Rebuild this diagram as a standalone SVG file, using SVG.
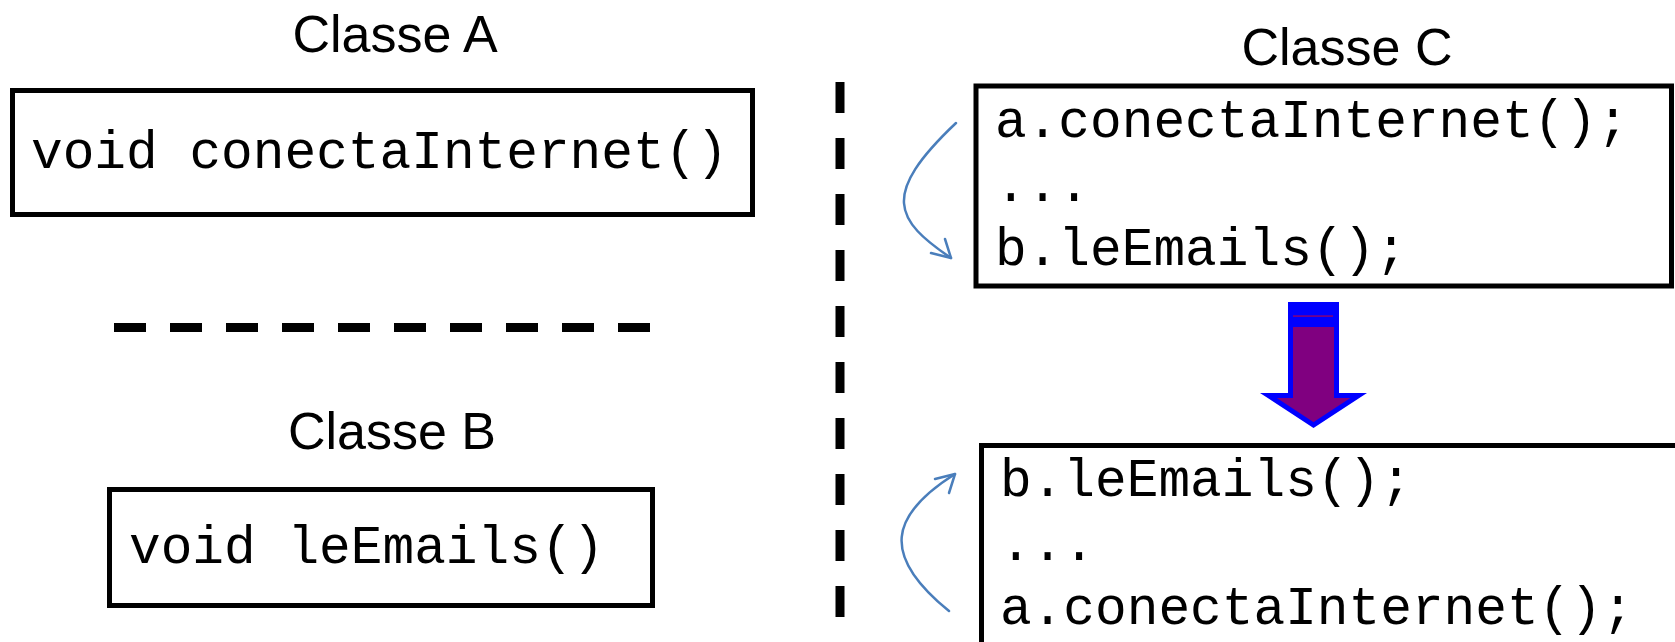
<svg xmlns="http://www.w3.org/2000/svg" width="1675" height="642" viewBox="0 0 1675 642">
  <style>
    .title { font-family: "Liberation Sans", Arial, sans-serif; font-size: 52px; fill: #000; text-anchor: middle; }
    .code { font-family: "Liberation Mono", "Courier New", monospace; font-size: 52.8px; fill: #000; }
    .box { fill: #fff; stroke: #000; stroke-width: 5; }
    .sep { fill: none; stroke: #000; stroke-width: 9; }
    .flow { fill: none; stroke: #4a7ebb; stroke-width: 2.5; stroke-linecap: round; stroke-linejoin: round; }
  </style>
  <rect width="1675" height="642" fill="#fff"/>

  <g id="separators">
    <line class="sep" x1="114" y1="327.5" x2="651" y2="327.5" stroke-dasharray="32 24"/>
    <line class="sep" x1="840" y1="82" x2="840" y2="617" stroke-dasharray="31 25"/>
  </g>

  <g id="classeA">
    <text class="title" x="395" y="52">Classe A</text>
    <rect class="box" x="12.5" y="90.5" width="740" height="124"/>
    <text class="code" x="31" y="168">void conectaInternet()</text>
  </g>

  <g id="classeB">
    <text class="title" x="392" y="449">Classe B</text>
    <rect class="box" x="109.5" y="489.5" width="543" height="116"/>
    <text class="code" x="129" y="563">void leEmails()</text>
  </g>

  <g id="classeC-before">
    <text class="title" x="1347" y="65">Classe C</text>
    <rect class="box" x="976" y="86" width="695.5" height="200"/>
    <text class="code" x="995" y="137">a.conectaInternet();</text>
    <text class="code" x="995" y="201">...</text>
    <text class="code" x="995" y="265">b.leEmails();</text>
  </g>

  <g id="classeC-after">
    <rect class="box" x="981.5" y="445.5" width="720" height="220"/>
    <text class="code" x="1000" y="496">b.leEmails();</text>
    <text class="code" x="1000" y="560">...</text>
    <text class="code" x="1000" y="624">a.conectaInternet();</text>
  </g>

  <g id="transform-arrow">
    <rect x="1288" y="302" width="51" height="22" fill="#0000ff"/>
    <rect x="1293" y="315.3" width="40" height="1.6" fill="#800080"/>
    <polygon points="1290.5,324.5 1336.5,324.5 1336.5,395.5 1358.6,395.5 1313.5,425 1268.4,395.5 1290.5,395.5" fill="#800080" stroke="#0000ff" stroke-width="5"/>
  </g>

  <g id="connectors">
    <path class="flow" d="M956,123 C880,195 895,220 951,258"/>
    <path class="flow" d="M931,253 L951,258 L945,239"/>
    <path class="flow" d="M949,611 C880,555 890,515 955,474"/>
    <path class="flow" d="M935,479 L955,474 L949,493"/>
  </g>
</svg>
